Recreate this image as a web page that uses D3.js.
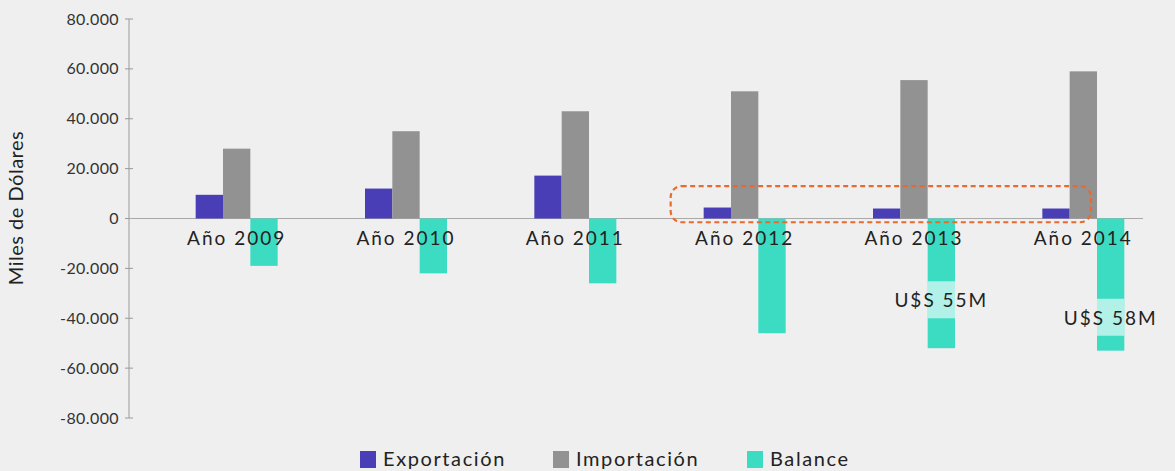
<!DOCTYPE html>
<meta charset="utf-8">
<body style="margin:0;background:#efefef">
<script src="https://d3js.org/d3.v7.min.js"></script>
<div id="my_dataviz"></div>
</body>
<script>

// Data (miles de dólares)
var years = ["Año 2009", "Año 2010", "Año 2011", "Año 2012", "Año 2013", "Año 2014"]
var exportacion = [9500, 12000, 17200, 4400, 4000, 4000]
var importacion = [28000, 35000, 43000, 51000, 55500, 59000]
var balance = [-19000, -22000, -26000, -46000, -52000, -53000]
var series = ["Exportación", "Importación", "Balance"]
var colors = ["#4a3eb6", "#929292", "#3cdcc3"]
var yTicks = [80000, 60000, 40000, 20000, 0, -20000, -40000, -60000, -80000]
var notes = [{year: "Año 2013", text: "U$S 55M", at: -34000}, {year: "Año 2014", text: "U$S 58M", at: -41000}]

var W = 1175, H = 471

var svg = d3.select("#my_dataviz")
  .append("svg")
    .attr("width", W)
    .attr("height", H)
    .style("font-family", "Lato, 'Noto Sans', sans-serif")

var y = d3.scaleLinear().domain([-80000, 80000]).range([418, 19])
var x0 = d3.scaleBand().domain(years).range([152, 1168])
var groupW = 82
var x1 = d3.scaleBand().domain(series).range([0, groupW])

// y axis (plain hyphen for negatives, dot as thousands separator)
var fmt = function(d) { return d3.format(",")(d).replace(/,/g, ".").replace("\u2212", "-") }
svg.append("line")
  .attr("x1", 129).attr("x2", 129)
  .attr("y1", y(80000)).attr("y2", y(-80000))
  .style("stroke", "#9a9a9a").style("stroke-width", 1)
var ty = svg.append("g").selectAll("g").data(yTicks).join("g")
  .attr("transform", function(d) { return "translate(0," + y(d) + ")" })
ty.append("line").attr("x1", 125).attr("x2", 133).style("stroke", "#9a9a9a")
ty.append("text")
  .attr("x", 119).attr("dy", "0.35em")
  .attr("text-anchor", "end")
  .style("font-size", "16px")
  .style("letter-spacing", "0.4px")
  .style("fill", "#333")
  .text(fmt)

svg.append("text")
  .attr("transform", "translate(23,208) rotate(-90)")
  .attr("text-anchor", "middle")
  .style("font-size", "20px")
  .style("letter-spacing", "0.5px")
  .style("fill", "#222")
  .text("Miles de Dólares")

// zero line
svg.append("line")
  .attr("x1", 129).attr("x2", 1143)
  .attr("y1", y(0)).attr("y2", y(0))
  .style("stroke", "#a8a8a8").style("stroke-width", 1.2)

// bars
var rows = years.map(function(yr, i) {
  return {year: yr, values: [exportacion[i], importacion[i], balance[i]]}
})
var off = (x0.bandwidth() - groupW) / 2
var grp = svg.append("g").selectAll("g").data(rows).join("g")
  .attr("transform", function(d) { return "translate(" + (x0(d.year) + off) + ",0)" })
grp.selectAll("rect")
  .data(function(d) { return d.values.map(function(v, k) { return {s: series[k], v: v, k: k} }) })
  .join("rect")
    .attr("x", function(d) { return x1(d.s) })
    .attr("width", x1.bandwidth())
    .attr("y", function(d) { return y(Math.max(0, d.v)) })
    .attr("height", function(d) { return Math.abs(y(d.v) - y(0)) })
    .style("fill", function(d) { return colors[d.k] })

// category labels
svg.append("g").selectAll("text").data(years).join("text")
  .attr("x", function(d) { return x0(d) + x0.bandwidth() / 2 })
  .attr("y", 245)
  .attr("text-anchor", "middle")
  .style("font-size", "19px")
  .style("letter-spacing", "2px")
  .style("fill", "#222")
  .text(function(d) { return d })

// highlighted value notes on the balance bars
notes.forEach(function(n) {
  var bx = x0(n.year) + off + x1("Balance")
  svg.append("rect")
    .attr("x", bx).attr("width", x1.bandwidth())
    .attr("y", y(n.at) - 22).attr("height", 37)
    .style("fill", "#fff").style("opacity", 0.6)
  svg.append("text")
    .attr("x", bx + x1.bandwidth() / 2)
    .attr("y", y(n.at) + 4)
    .attr("text-anchor", "middle")
    .style("font-size", "19px")
    .style("letter-spacing", "2px")
    .style("fill", "#222")
    .text(n.text)
})

// dashed box around the small exports
var bx0 = x0("Año 2012") + off - 33
var bx1 = x0("Año 2014") + off + x1("Importación") + x1.bandwidth() - 6
svg.append("rect")
  .attr("x", bx0).attr("y", y(13000))
  .attr("width", bx1 - bx0).attr("height", y(-1500) - y(13000))
  .attr("rx", 11).attr("ry", 11)
  .style("fill", "none")
  .style("stroke", "#ea6a2e")
  .style("stroke-width", 2.2)
  .style("stroke-dasharray", "5,3.5")

// legend
var legX = [360, 553, 747]
var leg = svg.append("g").selectAll("g").data(series).join("g")
  .attr("transform", function(d, i) { return "translate(" + legX[i] + ",451)" })
leg.append("rect").attr("width", 16).attr("height", 17)
  .style("fill", function(d, i) { return colors[i] })
leg.append("text")
  .attr("x", 23).attr("y", 15)
  .style("font-size", "20px")
  .style("letter-spacing", "1.6px")
  .style("fill", "#222")
  .text(function(d) { return d })

</script>
